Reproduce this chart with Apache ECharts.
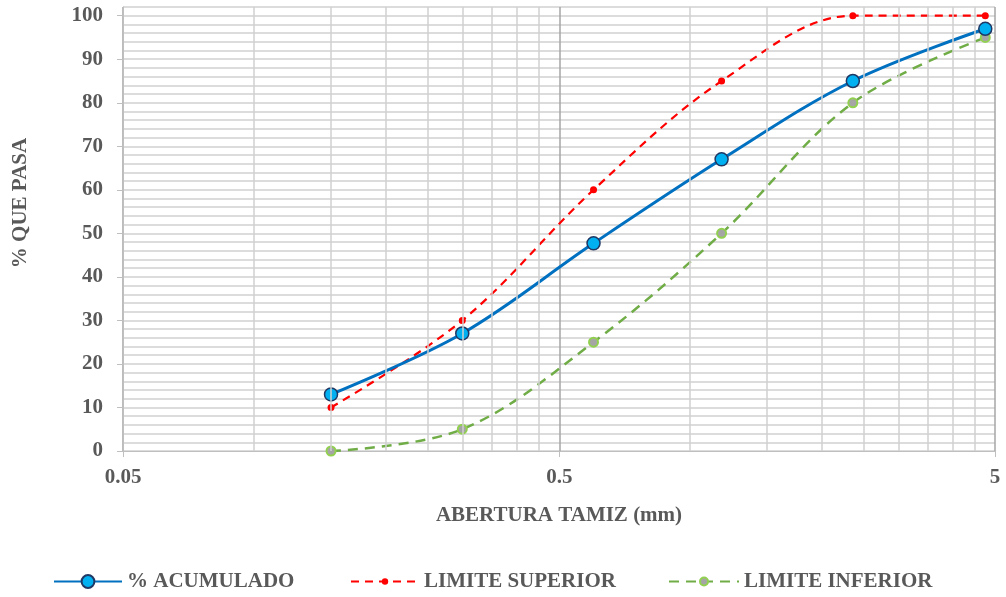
<!DOCTYPE html>
<html>
<head>
<meta charset="utf-8">
<script src="https://cdn.jsdelivr.net/npm/echarts@6/dist/echarts.min.js"></script>
<style>html,body{margin:0;padding:0;background:#fff;}#c{width:1006px;height:597px;}</style>
</head>
<body>
<div id="c"></div>
<script>
var sieveSizes = [0.15, 0.3, 0.6, 1.18, 2.36, 4.75];
var acumulado = [13, 27, 47.7, 67, 85, 97];
var limiteSuperior = [10, 30, 60, 85, 100, 100];
var limiteInferior = [0, 5, 25, 50, 80, 95];
var xTickLabels = ['0.05', '0.5', '5'];
var yTickValues = [0, 10, 20, 30, 40, 50, 60, 70, 80, 90, 100];
var minorXGrid = [0.1, 0.15, 0.2, 0.25, 0.3, 0.35, 0.4, 0.45, 1, 1.5, 2, 2.5, 3, 3.5, 4, 4.5];

function pairs(xs, ys) { return xs.map(function (x, i) { return [x, ys[i]]; }); }

var font = '"Liberation Serif", "Times New Roman", serif';
var txt = '#595959';
var fs = 21;
var gridColor = '#d0d0d0';

var legendText = { fontFamily: font, fontWeight: 'bold', fontSize: fs, color: txt };

var chart = echarts.init(document.getElementById('c'));
chart.setOption({
  animation: false,
  grid: { left: 123, right: 11, top: 7, bottom: 146, containLabel: false },
  legend: [
    { left: 48, top: 566, data: ['% ACUMULADO'], itemWidth: 68, itemHeight: 16, textStyle: legendText },
    { left: 345, top: 566, data: ['LIMITE SUPERIOR'], itemWidth: 68, itemHeight: 8, textStyle: legendText },
    { left: 663, top: 566, data: ['LIMITE INFERIOR'], itemWidth: 70, itemHeight: 10, textStyle: legendText }
  ],
  xAxis: {
    type: 'log',
    logBase: 10,
    min: 0.05,
    max: 5,
    interval: 1,
    name: 'ABERTURA TAMIZ (mm)',
    nameLocation: 'middle',
    nameGap: 54,
    nameTextStyle: { fontFamily: font, fontWeight: 'bold', fontSize: fs, color: txt },
    axisLine: { show: true, lineStyle: { color: '#bfbfbf', width: 1 } },
    axisTick: { show: true, length: 6, lineStyle: { color: '#bfbfbf' } },
    axisLabel: {
      fontFamily: font, fontWeight: 'bold', fontSize: fs, color: txt, margin: 16,
      formatter: function (v) {
        var best = xTickLabels[0], d = Infinity;
        xTickLabels.forEach(function (t) { var dd = Math.abs(Math.log10(+t) - Math.log10(v)); if (dd < d) { d = dd; best = t; } });
        return best;
      }
    },
    splitLine: { show: true, lineStyle: { color: '#a6a6a6', width: 1.5 } }
  },
  yAxis: [
    {
      type: 'value',
      min: 0,
      max: 102,
      interval: 10,
      name: '% QUE PASA',
      nameLocation: 'middle',
      nameGap: 92,
      nameTextStyle: { fontFamily: font, fontWeight: 'bold', fontSize: fs, color: txt, padding: [0, 0, 0, 52] },
      axisLine: { show: true, lineStyle: { color: '#bfbfbf', width: 1 } },
      axisTick: { show: true, length: 6, lineStyle: { color: '#bfbfbf' }, customValues: yTickValues },
      axisLabel: {
        fontFamily: font, fontWeight: 'bold', fontSize: fs, color: txt, margin: 20,
        customValues: yTickValues,
        formatter: function (v) { return v > 100 ? '' : String(v); }
      },
      splitLine: { show: false }
    },
    {
      type: 'value',
      min: 0,
      max: 102,
      interval: 2,
      position: 'left',
      axisLine: { show: false },
      axisTick: { show: false },
      axisLabel: { show: false },
      splitLine: { show: true, lineStyle: { color: gridColor, width: 1.5 } }
    }
  ],
  series: [
    {
      name: 'grid',
      type: 'line',
      data: [],
      z: 1,
      silent: true,
      markLine: {
        silent: true,
        symbol: 'none',
        label: { show: false },
        lineStyle: { color: gridColor, width: 1.5, type: 'solid' },
        data: minorXGrid.map(function (v) { return { xAxis: v }; })
      }
    },
    {
      name: 'LIMITE SUPERIOR',
      type: 'line',
      smooth: 0.35,
      z: 3,
      data: pairs(sieveSizes, limiteSuperior),
      symbol: 'circle',
      symbolSize: 7,
      itemStyle: { color: '#ff0000' },
      lineStyle: { color: '#ff0000', width: 2.2, type: [8, 6] }
    },
    {
      name: 'LIMITE INFERIOR',
      type: 'line',
      smooth: 0.35,
      z: 3,
      data: pairs(sieveSizes, limiteInferior),
      symbol: 'circle',
      symbolSize: 9,
      itemStyle: { color: '#a5a5a5', borderColor: '#92d050', borderWidth: 2 },
      lineStyle: { color: '#70ad47', width: 2.5, type: [10, 7] }
    },
    {
      name: '% ACUMULADO',
      type: 'line',
      smooth: 0.35,
      z: 4,
      data: pairs(sieveSizes, acumulado),
      symbol: 'circle',
      symbolSize: 13,
      itemStyle: { color: '#00b0f0', borderColor: '#1f3864', borderWidth: 1.5 },
      lineStyle: { color: '#0070c0', width: 3 }
    }
  ]
});
</script>
</body>
</html>
